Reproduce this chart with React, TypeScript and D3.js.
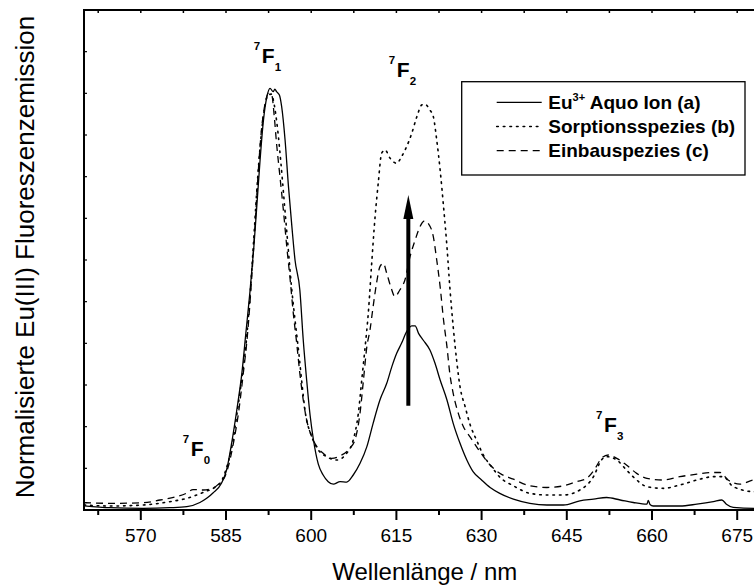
import React from "react";
import * as d3 from "d3";

// Emission spectra: [wavelength in nm, normalised intensity]
const aquoIon: [number, number][] = [
  [560.0, 0.010], [564.6, 0.0055], [570.4, 0.0041], [575.1, 0.0055], [578.1, 0.0079],
  [580.4, 0.018], [581.6, 0.028], [582.7, 0.041], [584.2, 0.064], [585.1, 0.096],
  [586.0, 0.161], [586.9, 0.24], [587.8, 0.329], [588.5, 0.425], [589.2, 0.521],
  [589.9, 0.631], [590.5, 0.744], [591.0, 0.84], [591.6, 0.936], [592.2, 0.992],
  [592.75, 1.012], [593.3, 1.004], [593.6, 1.010], [593.9, 1.004], [594.4, 0.996],
  [594.8, 0.968], [595.4, 0.888], [596.0, 0.776], [596.6, 0.68], [597.15, 0.6],
  [598.0, 0.528], [598.6, 0.408], [599.2, 0.312], [599.8, 0.228], [600.4, 0.168],
  [601.25, 0.11], [602.1, 0.084], [603.0, 0.068], [603.9, 0.062], [605.1, 0.068],
  [606.25, 0.067], [607.4, 0.084], [608.6, 0.112], [609.8, 0.152], [610.9, 0.208],
  [612.1, 0.264], [613.3, 0.304], [614.2, 0.344], [615.05, 0.376], [615.9, 0.4],
  [616.8, 0.428], [617.7, 0.442], [618.3, 0.442], [618.9, 0.424], [619.7, 0.408],
  [620.9, 0.384], [621.8, 0.352], [622.7, 0.312], [623.9, 0.264], [625.0, 0.208],
  [626.2, 0.16], [627.4, 0.12], [628.5, 0.092], [630.0, 0.072], [631.5, 0.054],
  [633.2, 0.04], [635.6, 0.026], [638.5, 0.016], [641.5, 0.012], [644.4, 0.012],
  [647.3, 0.022], [649.7, 0.026], [652.0, 0.03], [654.4, 0.024], [656.7, 0.018],
  [659.1, 0.014], [659.35, 0.023], [659.65, 0.013], [660.2, 0.0096], [662.6, 0.0096],
  [664.9, 0.0096], [667.9, 0.014], [670.8, 0.02], [672.3, 0.024], [673.1, 0.014],
  [674.3, 0.0065], [678.0, 0.004], [680.0, 0.004],
];

const sorption: [number, number][] = [
  [560.0, 0.012], [564.6, 0.0096], [570.4, 0.012], [575.1, 0.02], [578.1, 0.028],
  [581.3, 0.044], [583.1, 0.055], [584.3, 0.072], [585.2, 0.106], [586.1, 0.156],
  [586.9, 0.228], [587.8, 0.317], [588.6, 0.408], [589.3, 0.528], [589.9, 0.653],
  [590.55, 0.792], [591.2, 0.9], [591.8, 0.965], [592.4, 0.996], [593.0, 0.998],
  [593.5, 0.972], [594.1, 0.912], [594.7, 0.828], [595.3, 0.732], [595.9, 0.636],
  [596.5, 0.54], [597.15, 0.456], [597.8, 0.379], [598.4, 0.3], [598.9, 0.24],
  [600.1, 0.176], [601.25, 0.144], [602.7, 0.128], [604.5, 0.12], [606.25, 0.136],
  [607.4, 0.168], [608.3, 0.232], [608.9, 0.312], [609.5, 0.392], [610.05, 0.472],
  [610.65, 0.592], [611.2, 0.696], [611.8, 0.784], [612.4, 0.856], [613.0, 0.864],
  [613.9, 0.844], [615.05, 0.832], [615.9, 0.848], [616.8, 0.872], [617.7, 0.904],
  [618.6, 0.944], [619.45, 0.972], [620.0, 0.974], [620.9, 0.96], [621.5, 0.944],
  [622.1, 0.888], [622.7, 0.816], [623.3, 0.728], [623.9, 0.632], [624.4, 0.536],
  [625.0, 0.44], [625.6, 0.36], [626.2, 0.296], [627.1, 0.248], [628.0, 0.204],
  [629.1, 0.168], [630.3, 0.132], [631.8, 0.103], [633.2, 0.079], [635.6, 0.058],
  [638.5, 0.04], [641.5, 0.036], [644.4, 0.036], [647.3, 0.048], [649.7, 0.08],
  [651.1, 0.12], [652.0, 0.128], [653.8, 0.12], [655.5, 0.096], [657.3, 0.072],
  [659.1, 0.056], [662.0, 0.052], [664.9, 0.06], [667.9, 0.072], [670.8, 0.08],
  [672.55, 0.08], [674.3, 0.056], [678.0, 0.044], [680.0, 0.044],
];

const incorporation: [number, number][] = [
  [560.0, 0.0175], [564.6, 0.016], [570.4, 0.0175], [573.4, 0.024], [576.3, 0.032],
  [578.0, 0.04], [579.2, 0.049], [581.0, 0.048], [582.2, 0.05], [583.9, 0.065],
  [584.8, 0.08], [585.4, 0.104], [586.3, 0.16], [587.2, 0.233], [588.05, 0.329],
  [588.75, 0.416], [589.5, 0.552], [590.1, 0.68], [590.7, 0.816], [591.3, 0.92],
  [591.9, 0.976], [592.45, 1.0], [593.05, 0.996], [593.5, 0.944], [593.9, 0.88],
  [594.5, 0.8], [595.1, 0.72], [595.7, 0.632], [596.3, 0.552], [596.85, 0.472],
  [597.45, 0.4], [598.0, 0.328], [598.6, 0.264], [599.2, 0.216], [600.1, 0.176],
  [601.0, 0.152], [602.1, 0.136], [603.6, 0.124], [605.1, 0.13], [606.8, 0.148],
  [607.7, 0.168], [608.6, 0.233], [609.2, 0.312], [609.8, 0.392], [610.35, 0.432],
  [610.9, 0.488], [611.5, 0.544], [612.1, 0.584], [612.7, 0.592], [613.3, 0.568],
  [614.0, 0.536], [614.75, 0.512], [615.6, 0.528], [616.5, 0.552], [617.4, 0.608],
  [618.3, 0.648], [619.15, 0.68], [620.0, 0.694], [620.6, 0.688], [621.5, 0.656],
  [622.1, 0.6], [622.7, 0.536], [623.3, 0.456], [623.9, 0.392], [624.4, 0.328],
  [625.0, 0.28], [625.9, 0.232], [626.8, 0.2], [628.0, 0.175], [629.7, 0.14],
  [631.5, 0.108], [633.2, 0.088], [635.6, 0.074], [638.5, 0.058], [641.5, 0.054],
  [644.4, 0.058], [646.7, 0.068], [648.5, 0.076], [650.0, 0.1], [651.1, 0.124],
  [652.3, 0.132], [653.8, 0.124], [655.5, 0.108], [657.3, 0.088], [659.1, 0.076],
  [662.0, 0.072], [664.9, 0.08], [667.9, 0.086], [670.8, 0.09], [672.0, 0.09],
  [673.4, 0.072], [675.5, 0.062], [678.0, 0.072], [680.0, 0.07],
];

const majorTicks = [570, 585, 600, 615, 630, 645, 660, 675];
const minorTicks = [562.5, 577.5, 592.5, 607.5, 622.5, 637.5, 652.5, 667.5];
const yTicks = d3.range(0, 1.2001, 0.1);

// transition labels: F left edge (nm) and F baseline (intensity)
const transitions = [
  { sub: "0", nm: 578.8, v: 0.13 },
  { sub: "1", nm: 591.3, v: 1.074 },
  { sub: "2", nm: 615.05, v: 1.0385 },
  { sub: "3", nm: 651.55, v: 0.1865 },
];

// arrow marking the growth of the hypersensitive 7F2 band
const arrowNm = 617.1;
const arrowFrom = 0.25;
const arrowTo = 0.756;

const series = [
  { name: "Sorptionsspezies (b)", data: sorption, dash: "1.6,5", width: 1.6 },
  { name: "Einbauspezies (c)", data: incorporation, dash: "7,5", width: 1.3 },
  { name: "Aquo", data: aquoIon, dash: "", width: 1.3 },
];

const W = 754;
const H = 588;
const left = 84;
const top = 10;
const bottom = 510;
const right = 765.6;
const FONT = "'Liberation Sans', Arial, Helvetica, sans-serif";

export default function App() {
  const x = d3.scaleLinear().domain([560, 680]).range([left, right]);
  const y = d3.scaleLinear().domain([0, 1.2]).range([bottom, top]);
  const line = d3
    .line<[number, number]>()
    .x((d) => x(d[0]))
    .y((d) => y(d[1]))
    .curve(d3.curveMonotoneX);

  const legendRows = [
    { dash: "", width: 1.3 },
    { dash: "1.6,5", width: 1.6 },
    { dash: "7,5", width: 1.3 },
  ];

  return (
    <svg
      width={W}
      height={H}
      style={{ position: "absolute", left: 0, top: 0, background: "#fff" }}
      fontFamily={FONT}
    >
      <defs>
        <clipPath id="plot">
          <rect x={left} y={top} width={right - left} height={bottom - top} />
        </clipPath>
      </defs>
      <rect width={W} height={H} fill="#fff" />

      <g clipPath="url(#plot)">
        {series.map((s) => (
          <path
            key={s.name}
            d={line(s.data) || ""}
            fill="none"
            stroke="#000"
            strokeWidth={s.width}
            strokeDasharray={s.dash || undefined}
            strokeLinecap={s.dash.startsWith("1.6") ? "round" : "butt"}
          />
        ))}
      </g>

      {/* frame */}
      <line x1={left} x2={left} y1={top} y2={bottom + 1} stroke="#000" strokeWidth={2} />
      <line x1={left - 1} x2={right} y1={bottom} y2={bottom} stroke="#000" strokeWidth={2} />
      <line x1={left - 1} x2={right} y1={top} y2={top} stroke="#000" strokeWidth={2} />

      {/* bottom ticks */}
      {majorTicks.map((t) => (
        <g key={"M" + t}>
          <line x1={x(t)} x2={x(t)} y1={bottom} y2={bottom + 10} stroke="#000" strokeWidth={2} />
          <line x1={x(t)} x2={x(t)} y1={top} y2={top + 3} stroke="#000" strokeWidth={1.5} />
          <text x={x(t)} y={542} textAnchor="middle" fontSize={19}>
            {t}
          </text>
        </g>
      ))}
      {minorTicks.map((t) => (
        <g key={"m" + t}>
          <line x1={x(t)} x2={x(t)} y1={bottom} y2={bottom + 5} stroke="#000" strokeWidth={2} />
          <line x1={x(t)} x2={x(t)} y1={top} y2={top + 3} stroke="#000" strokeWidth={1.5} />
        </g>
      ))}
      {yTicks.map((t, i) => (
        <line key={"y" + i} x1={left} x2={left + 3} y1={y(t)} y2={y(t)} stroke="#000" strokeWidth={1.2} />
      ))}

      {/* axis titles */}
      <text x={(left + right) / 2} y={580} textAnchor="middle" fontSize={24}>
        Wellenlänge / nm
      </text>
      <text
        transform={`translate(34, 257) rotate(-90)`}
        textAnchor="middle"
        fontSize={26}
      >
        Normalisierte Eu(III) Fluoreszenzemission
      </text>

      {/* arrow */}
      <line
        x1={x(arrowNm)}
        x2={x(arrowNm)}
        y1={y(arrowFrom)}
        y2={y(arrowTo) + 20}
        stroke="#000"
        strokeWidth={4}
      />
      <path
        d={`M${x(arrowNm)},${y(arrowTo)} L${x(arrowNm) - 5},${y(arrowTo) + 24} L${x(arrowNm) + 5},${y(arrowTo) + 24} Z`}
        fill="#000"
      />

      {/* transition labels */}
      {transitions.map((t) => (
        <text key={t.sub} fontWeight="bold">
          <tspan x={x(t.nm) - 8} y={y(t.v) - 13} fontSize={11.5}>
            7
          </tspan>
          <tspan x={x(t.nm)} y={y(t.v)} fontSize={21}>
            F
          </tspan>
          <tspan x={x(t.nm) + 13} y={y(t.v) + 8} fontSize={11.5}>
            {t.sub}
          </tspan>
        </text>
      ))}

      {/* legend */}
      <rect x={461.7} y={81.7} width={283.3} height={93.3} fill="#fff" stroke="#000" strokeWidth={1.3} />
      {legendRows.map((r, i) => {
        const ly = 102.3 + i * 24.2;
        return (
          <line
            key={"l" + i}
            x1={496.7}
            x2={541.7}
            y1={ly}
            y2={ly}
            stroke="#000"
            strokeWidth={r.width}
            strokeDasharray={r.dash || undefined}
            strokeLinecap={i === 1 ? "round" : "butt"}
          />
        );
      })}
      <text x={548.3} y={108.9} fontSize={19} fontWeight="bold">
        Eu
        <tspan fontSize={11} dy={-8}>
          3+
        </tspan>
        <tspan dy={8}> Aquo Ion (a)</tspan>
      </text>
      <text x={548.3} y={133.1} fontSize={19} fontWeight="bold">
        Sorptionsspezies (b)
      </text>
      <text x={548.3} y={157.3} fontSize={19} fontWeight="bold">
        Einbauspezies (c)
      </text>
    </svg>
  );
}
